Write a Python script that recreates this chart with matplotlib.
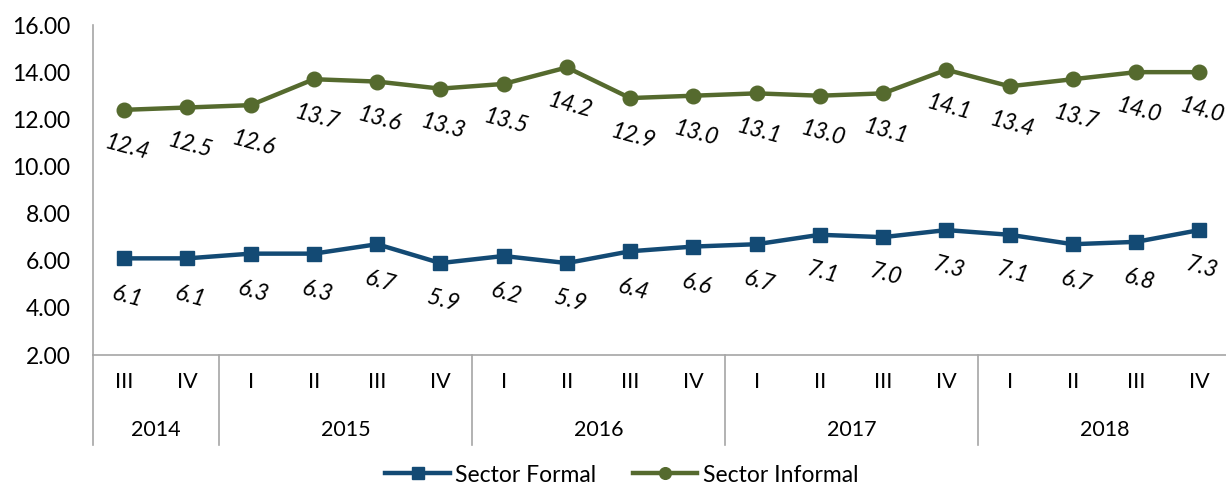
import matplotlib
matplotlib.use("Agg")
import matplotlib.pyplot as plt
import matplotlib.transforms as mtransforms

plt.rcParams['font.family'] = ['Lato', 'DejaVu Sans']

quarters = ["III", "IV", "I", "II", "III", "IV", "I", "II", "III", "IV",
            "I", "II", "III", "IV", "I", "II", "III", "IV"]
years = ["2014", "2015", "2016", "2017", "2018"]
year_counts = [2, 4, 4, 4, 4]
formal = [6.1, 6.1, 6.3, 6.3, 6.7, 5.9, 6.2, 5.9, 6.4, 6.6, 6.7, 7.1, 7.0, 7.3, 7.1, 6.7, 6.8, 7.3]
informal = [12.4, 12.5, 12.6, 13.7, 13.6, 13.3, 13.5, 14.2, 12.9, 13.0, 13.1, 13.0, 13.1, 14.1, 13.4, 13.7, 14.0, 14.0]

c_formal = "#134A74"
c_informal = "#556A2E"
gray = "#A6A6A6"

W, H = 1226, 487
fig = plt.figure(figsize=(W / 100, H / 100), dpi=100)
left, right, top, bottom = 92.5, W, 25, 355
ax = fig.add_axes([left / W, 1 - bottom / H, (right - left) / W, (bottom - top) / H])

x = list(range(len(quarters)))
ax.plot(x, formal, color=c_formal, lw=3.2, marker='s', ms=10, label="Sector Formal",
        solid_joinstyle='round', zorder=3)
ax.plot(x, informal, color=c_informal, lw=3.2, marker='o', ms=10.5, label="Sector Informal",
        solid_joinstyle='round', zorder=3)

for xi, v in zip(x, formal):
    ax.annotate(f"{v:.1f}", (xi, v), xytext=(3, -38), textcoords='offset pixels',
                ha='center', va='center', fontsize=16.5, style='italic', rotation=-15)
for xi, v in zip(x, informal):
    ax.annotate(f"{v:.1f}", (xi, v), xytext=(3, -38), textcoords='offset pixels',
                ha='center', va='center', fontsize=16.5, style='italic', rotation=-15)

cat_w = 63.25
ax.set_xlim(-0.5, (right - left) / cat_w - 0.5)
ax.set_ylim(2, 16)
ax.set_yticks([2, 4, 6, 8, 10, 12, 14, 16])
ax.set_yticklabels([f"{v:.2f}" for v in [2, 4, 6, 8, 10, 12, 14, 16]], fontsize=16.5)
ax.tick_params(axis='y', length=0, pad=16)
ax.set_xticks(x)
ax.set_xticklabels(quarters, fontsize=15.5)
ax.tick_params(axis='x', length=0, pad=12)

for s in ['top', 'right']:
    ax.spines[s].set_visible(False)
for s in ['left', 'bottom']:
    ax.spines[s].set_color(gray)
    ax.spines[s].set_linewidth(1.2)

trans = mtransforms.blended_transform_factory(ax.transData, ax.transAxes)
sep_bottom = -(445 - bottom) / (bottom - top)
year_y = -(430 - bottom) / (bottom - top)
pos = -0.5
ax.plot([pos, pos], [0, sep_bottom], transform=trans, color=gray, lw=1.2, clip_on=False)
for yr, n in zip(years, year_counts):
    ax.text(pos + n / 2, year_y, yr, transform=trans, ha='center', va='center', fontsize=15.5)
    pos += n
    ax.plot([pos, pos], [0, sep_bottom], transform=trans, color=gray, lw=1.2, clip_on=False)

fig.legend(loc='center', bbox_to_anchor=(622 / W, 1 - 475 / H), ncol=2, frameon=False,
           fontsize=16.5, handlelength=2.8, columnspacing=1.6, handletextpad=0.25,
           markerscale=0.8)

fig.savefig("out.png", dpi=100)
